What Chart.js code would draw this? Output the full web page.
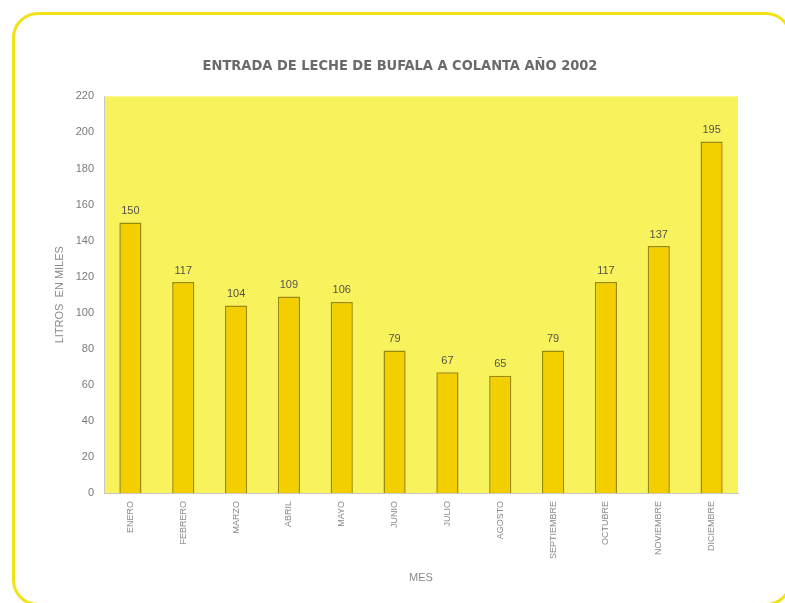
<!DOCTYPE html>
<html>
<head>
<meta charset="utf-8">
<title>Entrada de leche de búfala</title>
<script src="https://cdn.jsdelivr.net/npm/chart.js@4/dist/chart.umd.min.js"></script>
<style>
  html, body { margin: 0; padding: 0; background: #fff; }
  #marco {
    position: absolute; left: 12px; top: 12px; width: 780px; height: 594px;
    border: 3px solid #f2e21a; border-radius: 26px; box-sizing: border-box;
  }
  #wrap { position: absolute; left: 0; top: 0; width: 785px; height: 603px; }
</style>
</head>
<body>
<div id="marco"></div>
<div id="wrap"><canvas id="chartLeche" width="785" height="603"></canvas></div>
<script>
// Datos
const meses = ['ENERO', 'FEBRERO', 'MARZO', 'ABRIL', 'MAYO', 'JUNIO', 'JULIO', 'AGOSTO', 'SEPTIEMBRE', 'OCTUBRE', 'NOVIEMBRE', 'DICIEMBRE'];
const litrosMiles = [150, 117, 104, 109, 106, 79, 67, 65, 79, 117, 137, 195];
const ticksY = [0, 20, 40, 60, 80, 100, 120, 140, 160, 180, 200, 220];

// Fondo del área de trazado
const fondoPlot = {
  id: 'fondoPlot',
  beforeDraw(chart) {
    const { ctx, chartArea: a } = chart;
    ctx.save();
    ctx.fillStyle = '#f8f35c';
    ctx.fillRect(a.left, a.top, a.right - a.left, a.bottom - a.top);
    ctx.restore();
  }
};

// Etiquetas de valor encima de cada barra
const etiquetas = {
  id: 'etiquetas',
  afterDatasetsDraw(chart) {
    const ctx = chart.ctx;
    const meta = chart.getDatasetMeta(0);
    ctx.save();
    ctx.fillStyle = '#55534a';
    ctx.font = '11px "Liberation Sans", Arial, sans-serif';
    ctx.textAlign = 'center';
    ctx.textBaseline = 'bottom';
    meta.data.forEach((bar, i) => {
      ctx.fillText(String(litrosMiles[i]), bar.x, bar.y - 6);
    });
    ctx.restore();
  }
};

const ctx = document.getElementById('chartLeche').getContext('2d');
new Chart(ctx, {
  type: 'bar',
  data: {
    labels: meses,
    datasets: [{
      data: litrosMiles,
      backgroundColor: '#f4cf00',
      borderColor: '#9c8a10',
      borderWidth: 1.5,
      barPercentage: 0.42,
      categoryPercentage: 1
    }]
  },
  options: {
    responsive: false,
    animation: false,
    layout: { padding: { left: 15, right: 0, top: 0, bottom: 0 } },
    plugins: {
      legend: { display: false },
      tooltip: { enabled: false },
      title: {
        display: true,
        text: 'ENTRADA DE LECHE DE BUFALA A COLANTA AÑO 2002',
        color: '#6a6a6a',
        font: { family: '"DejaVu Sans Condensed", "Liberation Sans Narrow", sans-serif', size: 14.5, weight: 'bold' },
        padding: { top: 58, bottom: 21 }
      }
    },
    scales: {
      x: {
        grid: { display: false, drawTicks: false },
        border: { display: true, color: '#c8c8c8' },
        ticks: {
          color: '#8a8a8a',
          font: { family: '"Liberation Sans", Arial, sans-serif', size: 9 },
          minRotation: 90,
          maxRotation: 90,
          padding: 8
        },
        title: {
          display: true,
          text: 'MES',
          color: '#8a8a8a',
          font: { family: '"Liberation Sans", Arial, sans-serif', size: 11 },
          padding: { top: 4, bottom: 18 }
        },
        afterFit(scale) { scale.height = 110; }
      },
      y: {
        min: 0,
        max: 220,
        afterBuildTicks(scale) { scale.ticks = ticksY.map(v => ({ value: v })); },
        grid: { display: false, drawOnChartArea: false, drawTicks: true, tickLength: 4, color: '#c8c8c8' },
        border: { display: true, color: '#c8c8c8' },
        ticks: {
          color: '#7a7a7a',
          font: { family: '"Liberation Sans", Arial, sans-serif', size: 11 },
          padding: 6
        },
        title: {
          display: true,
          text: 'LITROS  EN MILES',
          color: '#8a8a8a',
          font: { family: '"Liberation Sans", Arial, sans-serif', size: 11 },
          padding: { top: 38, bottom: 0 }
        },
        afterFit(scale) { scale.width = 89; }
      },
      // eje vacío a la derecha para dejar el margen
      yDer: {
        position: 'right',
        display: true,
        grid: { display: false, drawTicks: false },
        border: { display: false },
        ticks: { display: false },
        afterFit(scale) { scale.width = 47; }
      }
    }
  },
  plugins: [fondoPlot, etiquetas]
});
</script>
</body>
</html>
